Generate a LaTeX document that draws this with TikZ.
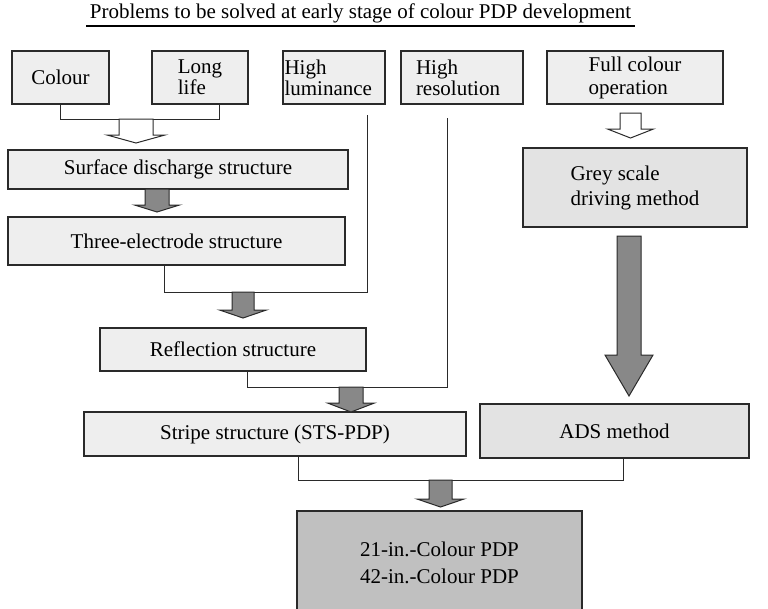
\documentclass[tikz,border=0pt]{standalone}
\usepackage{fontspec}
\setmainfont{Liberation Serif}
\usetikzlibrary{calc}

\definecolor{boxlight}{HTML}{EEEEEE}
\definecolor{boxmid}{HTML}{E3E3E3}
\definecolor{boxdark}{HTML}{C0C0C0}
\definecolor{arrowgrey}{HTML}{888888}
\definecolor{edge}{HTML}{2A2A2A}

% block arrow: centre x, top y, tip y, shaft half width, head half width, head length, fill
\newcommand\blockarrow[7]{%
  \draw[edge, line width=1pt, line join=miter, fill=#7]
    (#1-#4,#2) -- (#1+#4,#2) -- (#1+#4,#3-#6) -- (#1+#5,#3-#6) --
    (#1,#3) -- (#1-#5,#3-#6) -- (#1-#4,#3-#6) -- cycle;}

\begin{document}
\begin{tikzpicture}[x=1pt,y=-1pt,
  box/.style={draw=edge, line width=1.2pt, fill=boxlight, inner sep=0pt,
    font=\fontsize{21}{21}\selectfont},
  link/.style={draw=edge, line width=1pt}]
\useasboundingbox (0,0) rectangle (768,608);

% heading
\node[anchor=base, font=\fontsize{21}{22}\selectfont, inner sep=0pt] (title) at (360.5,18)
  {Problems to be solved at early stage of colour PDP development};
\draw[black, line width=1.6pt] (86,26) -- (635,26);

% problem boxes
\node[box, minimum width=97pt, minimum height=53pt] (colour) at (60.5,77.5) {Colour};
\node[box, minimum width=96pt, minimum height=53pt, align=left] (longlife) at (200,77.5) {Long\\life};
\node[box, minimum width=102pt, minimum height=53pt, text width=99pt, inner xsep=1.5pt, align=left]
  (highlum) at (334,77.5) {High\\luminance};
\node[box, minimum width=122pt, minimum height=53pt, text width=92pt, inner xsep=15pt, align=left]
  (highres) at (462,77.5) {High\\resolution};
\node[box, minimum width=176pt, minimum height=53pt, align=left, font=\fontsize{21}{23}\selectfont]
  (fullcol) at (635,77.5) {Full colour\\operation};

% development steps
\node[box, minimum width=340pt, minimum height=39pt] (surface) at (178,169.5) {Surface discharge structure};
\node[box, minimum width=337pt, minimum height=48pt] (three) at (176.5,241) {Three-electrode structure};
\node[box, minimum width=266pt, minimum height=43pt] (reflect) at (233,349.5) {Reflection structure};
\node[box, minimum width=382pt, minimum height=44pt] (stripe) at (275,434) {Stripe structure (STS-PDP)};
\node[box, fill=boxmid, minimum width=224pt, minimum height=79pt, align=left, font=\fontsize{21}{25}\selectfont]
  (grey) at (635,187.5) {Grey scale\\driving method};
\node[box, fill=boxmid, minimum width=269pt, minimum height=54pt] (ads) at (614.5,431) {ADS method};
\node[box, fill=boxdark, minimum width=285pt, minimum height=103pt, align=center, font=\fontsize{21}{27}\selectfont]
  (final) at (439.5,562.5) {21-in.-Colour PDP\\42-in.-Colour PDP};

% joining lines
\coordinate (e1) at (219,119);
\draw[link] (colour.south) |- (e1) -- (e1 |- longlife.south);

\coordinate (e2) at (367,292);
\coordinate (lumend) at (367,115);
\draw[link] ([xshift=-12.5pt]three.south) |- (e2) -- (lumend);

\coordinate (e3) at (447,387);
\coordinate (resend) at (447,118);
\draw[link] ([xshift=14pt]reflect.south) |- (e3) -- (resend);

\coordinate (e4) at (623,480);
\draw[link] ([xshift=23pt]stripe.south) |- (e4) -- (e4 |- ads.south);

% block arrows
\blockarrow{136}{119}{143}{17}{29}{8}{white}
\blockarrow{630.5}{113}{138}{10.5}{23}{9}{white}
\blockarrow{157}{189}{212}{12}{22.5}{7}{arrowgrey}
\blockarrow{243}{292}{318}{11}{23.5}{8}{arrowgrey}
\blockarrow{351}{387}{412}{12}{23.5}{9}{arrowgrey}
\blockarrow{629}{236}{396}{12}{24}{41}{arrowgrey}
\blockarrow{440.5}{480}{507}{11.5}{23.5}{8}{arrowgrey}
\end{tikzpicture}
\end{document}
